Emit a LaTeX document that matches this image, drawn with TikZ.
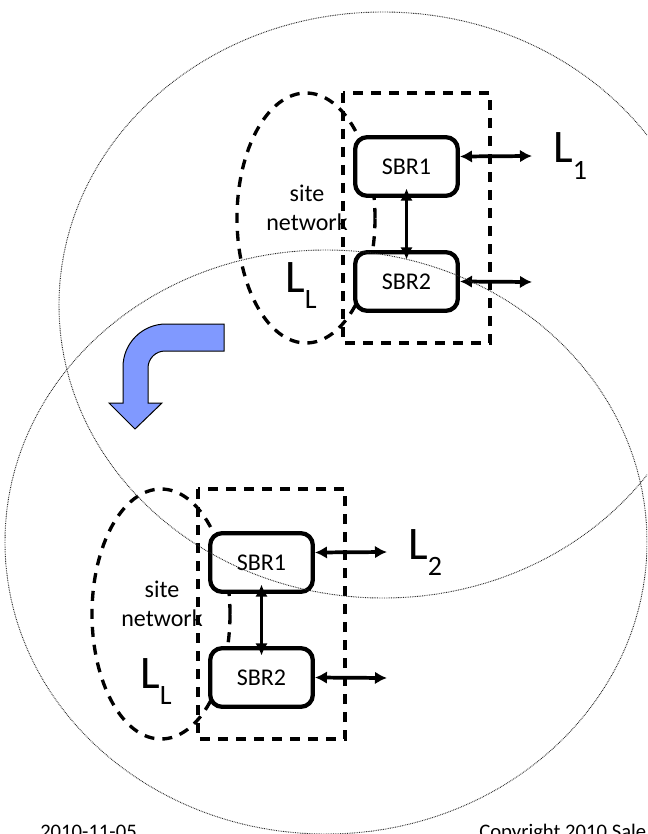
\documentclass[tikz,border=0pt]{standalone}
\usepackage{fontspec}
\setmainfont{Carlito}
\usetikzlibrary{arrows.meta}

\definecolor{arrowblue}{RGB}{128,153,255}

\tikzset{
    sbr/.style={draw, line width=3.2pt, fill=white, rounded corners=9pt,
        minimum width=77pt, minimum height=44pt, inner sep=0pt,
        font=\fontsize{18}{21.6}\selectfont},
    link/.style={line width=2.8pt,
        {Latex[length=9pt,width=9.5pt]}-{Latex[length=9pt,width=9.5pt]}},
    dashline/.style={line width=2.5pt, dash pattern=on 7.5pt off 6pt},
    dotline/.style={black!85, line width=0.7pt, dash pattern=on 0.6pt off 0.7pt},
    sitetext/.style={align=center, inner sep=0pt, font=\fontsize{18}{21.6}\selectfont},
    biglabel/.style={anchor=base west, inner sep=0pt, font=\fontsize{35}{40}\selectfont},
    foot/.style={anchor=base west, inner sep=0pt, font=\fontsize{15.5}{18}\selectfont}
}
\newcommand{\lsub}[1]{L\raisebox{-12.5pt}{\fontsize{21}{24}\selectfont #1}}

\begin{document}
\begin{tikzpicture}[x=0.75pt, y=0.75pt]
            \useasboundingbox (0,0) rectangle (647,-834);

            % 上方: 站点网络与两台SBR
            \coordinate (siteA) at (306,-218);
            \draw[dashline] (siteA) ellipse [x radius=69, y radius=125];
            \node[sitetext] (siteAtxt) at (307,-208) {site\\network};
            \node[biglabel] (llA) at (285,-292) {\lsub{L}};
            \draw[dashline] (343,-93) rectangle (490,-343);

            \node[sbr] (sbrA1) at (406.5,-166.5) {SBR1};
            \node[sbr] (sbrA2) at (406.5,-281.5) {SBR2};
            \coordinate (outA1) at (532,-156);
            \coordinate (outA2) at (532,-282);
            \draw[link, shorten <=-7pt, shorten >=-7pt] (sbrA1.south) -- (sbrA2.north);
            \draw[link] ([yshift=7.5pt]sbrA1.east) -- (outA1);
            \draw[link] (sbrA2.east) -- (outA2);
            \node[biglabel] (lone) at (553,-163) {\lsub{1}};

            % 弯箭头
            \filldraw[fill=arrowblue, draw=black, line width=0.75pt]
                (224,-324) -- (166,-324) arc[start angle=90, end angle=180, radius=43]
                -- (123,-403) -- (109,-403) -- (135,-429) -- (162,-403) -- (148,-403)
                -- (148,-368) arc[start angle=180, end angle=90, radius=17]
                -- (224,-351) -- cycle;

            % 下方: 同一站点, 换到L2
            \begin{scope}[shift={(-145,-396)}]
                \coordinate (siteB) at (306,-218);
                \draw[dashline] (siteB) ellipse [x radius=69, y radius=125];
                \node[sitetext] (siteBtxt) at (307,-208) {site\\network};
                \node[biglabel] (llB) at (285,-292) {\lsub{L}};
                \draw[dashline] (343,-93) rectangle (490,-343);

                \node[sbr] (sbrB1) at (406.5,-166.5) {SBR1};
                \node[sbr] (sbrB2) at (406.5,-281.5) {SBR2};
                \coordinate (outB1) at (532,-156);
                \coordinate (outB2) at (532,-282);
                \draw[link, shorten <=-7pt, shorten >=-7pt] (sbrB1.south) -- (sbrB2.north);
                \draw[link] ([yshift=7.5pt]sbrB1.east) -- (outB1);
                \draw[link] (sbrB2.east) -- (outB2);
                \node[biglabel] (ltwo) at (553,-163) {\lsub{2}};
            \end{scope}

            % 两个覆盖范围 (点线)
            \begin{scope}
                \clip (0,0) rectangle (647,-834);
                \coordinate (cellA) at (383,-305);
                \coordinate (cellB) at (326,-542);
                \draw[dotline] (cellA) ellipse [x radius=324, y radius=293];
                \draw[dotline] (cellB) ellipse [x radius=321, y radius=292];
            \end{scope}

            % 页脚
            \node[foot] (date) at (40,-838) {2010-11-05};
            \node[foot] (copy) at (479,-838) {Copyright 2010 Sale};
\end{tikzpicture}
\end{document}
